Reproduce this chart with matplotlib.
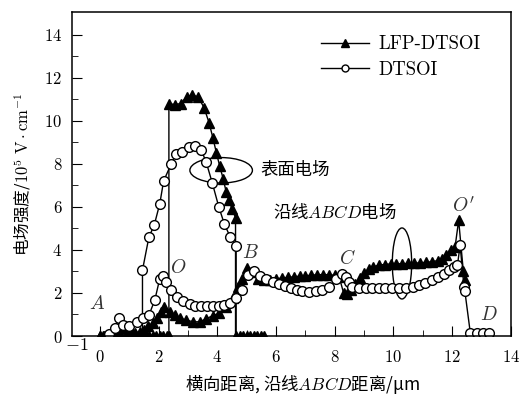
import matplotlib
matplotlib.use("Agg")
import matplotlib.pyplot as plt
from matplotlib.patches import Ellipse
from matplotlib.lines import Line2D

plt.rcParams['font.family'] = ['cmr10', 'Noto Sans CJK SC', 'DejaVu Sans']
plt.rcParams['mathtext.fontset'] = 'cm'
plt.rcParams['axes.unicode_minus'] = False
plt.rcParams['axes.formatter.use_mathtext'] = True

CJK = ['Noto Sans CJK SC', 'DejaVu Sans']

# LFP-DTSOI, surface field (lateral distance)
lfp_surf_x = [0, 0.12, 0.24, 0.36, 0.48, 0.6, 0.72, 0.84, 0.96, 1.08, 1.2, 1.32, 1.44, 1.56,
              1.68, 1.8, 1.92, 2.04, 2.16, 2.28, 2.35, 2.35, 2.55, 2.75, 2.95, 3.15, 3.35, 3.55,
              3.72, 3.85, 3.97, 4.08, 4.2, 4.3, 4.4, 4.5, 4.62, 4.62, 4.76, 4.88, 5.0,
              5.12, 5.24, 5.36, 5.48, 5.6]
lfp_surf_y = [0, 0, 0, 0, 0, 0, 0, 0, 0, 0, 0, 0, 0, 0,
              0, 0, 0, 0, 0, 0, 0, 10.8, 10.75, 10.8, 11.1, 11.2, 11.1, 10.6,
              9.9, 9.2, 8.5, 7.9, 7.3, 6.7, 6.3, 5.9, 5.5, 0, 0, 0, 0,
              0, 0, 0, 0, 0]

# LFP-DTSOI, along ABCD
lfp_abcd_x = [0.0, 0.15, 0.3, 0.45, 0.6, 0.75, 0.9, 1.05, 1.2, 1.35, 1.5, 1.65, 1.8, 1.95,
              2.08, 2.2, 2.38, 2.55, 2.72, 2.94, 3.17, 3.4, 3.62, 3.85, 4.07, 4.3, 4.53, 4.7,
              4.84, 5.0, 5.15, 5.38, 5.6, 5.8, 6.0, 6.2, 6.4, 6.6, 6.8, 7.0, 7.2, 7.4, 7.6,
              7.8, 8.0, 8.15, 8.3, 8.42, 8.55, 8.7, 8.85, 9.0, 9.15, 9.3, 9.5, 9.7, 9.9, 10.1,
              10.3, 10.5, 10.7, 10.9, 11.1, 11.3, 11.5, 11.65, 11.8, 11.95, 12.1, 12.22,
              12.38, 12.43]
lfp_abcd_y = [0, 0, 0.05, 0.1, 0.2, 0.35, 0.45, 0.3, 0.15, 0.2, 0.3, 0.45, 0.6, 0.85,
              1.1, 1.35, 1.13, 0.97, 0.83, 0.74, 0.66, 0.66, 0.8, 0.95, 1.05, 1.36, 1.75, 2.29,
              2.67, 3.15, 2.98, 2.67, 2.6, 2.6, 2.65, 2.7, 2.72, 2.75, 2.78, 2.8, 2.82, 2.85, 2.85,
              2.85, 2.82, 2.75, 2.0, 1.95, 2.15, 2.4, 2.7, 2.95, 3.1, 3.2, 3.3, 3.32, 3.35, 3.35,
              3.36, 3.37, 3.38, 3.4, 3.42, 3.45, 3.5, 3.6, 3.75, 4.0, 4.15, 5.38,
              3.0, 2.6]

# DTSOI, surface field (first and last point carry no marker)
dt_surf_x = [1.45, 1.45, 1.67, 1.85, 2.04, 2.17, 2.43, 2.6, 2.8, 3.03, 3.23, 3.45, 3.62,
             3.83, 4.05, 4.24, 4.44, 4.64, 4.64]
dt_surf_y = [0, 3.06, 4.6, 5.15, 6.15, 7.2, 8.0, 8.44, 8.55, 8.78, 8.82, 8.65, 8.08,
             7.1, 6.0, 5.2, 4.6, 4.2, 0]

# DTSOI, along ABCD
dt_abcd_x = [0.3, 0.5, 0.66, 0.8, 1.0, 1.25, 1.47, 1.67, 1.87, 2.04, 2.15, 2.24, 2.43,
             2.64, 2.84, 3.06, 3.25, 3.45, 3.65, 3.85, 4.05, 4.24, 4.44, 4.64, 4.84, 5.04,
             5.26, 5.47, 5.66, 5.89, 6.1, 6.3, 6.5, 6.7, 6.9, 7.13, 7.36, 7.58, 7.81, 8.04,
             8.26, 8.38, 8.47, 8.6, 8.83, 9.05, 9.28, 9.5, 9.72, 9.95, 10.2, 10.42, 10.65,
             10.87, 11.09, 11.32, 11.52, 11.71, 11.88, 12.05, 12.18, 12.27, 12.4, 12.43,
             12.62, 12.84, 13.04, 13.24]
dt_abcd_y = [0.1, 0.37, 0.82, 0.5, 0.45, 0.66, 0.82, 0.97, 1.67, 2.67, 2.78, 2.52, 2.13,
             1.82, 1.62, 1.48, 1.41, 1.39, 1.38, 1.39, 1.4, 1.44, 1.54, 1.75, 2.13, 2.83,
             3.03, 2.78, 2.64, 2.52, 2.4, 2.32, 2.22, 2.15, 2.1, 2.06, 2.1, 2.13, 2.29, 2.63,
             2.9, 2.75, 2.52, 2.29, 2.25, 2.21, 2.21, 2.21, 2.21, 2.21, 2.22, 2.25, 2.3,
             2.36, 2.44, 2.6, 2.75, 2.9, 3.06, 3.21, 3.3, 4.22, 2.3, 2.1,
             0.12, 0.12, 0.12, 0.12]

fig = plt.figure(figsize=(5.2, 3.96), dpi=100)
ax = fig.add_axes([0.1385, 0.1515, 0.844, 0.818])

tri = dict(color='black', lw=1, marker='^', ms=7, mfc='black', mec='black')
circ = dict(color='black', lw=1, marker='o', ms=7, mfc='white', mec='black', mew=1)

ax.plot(lfp_surf_x, lfp_surf_y, **tri)
ax.plot(lfp_abcd_x, lfp_abcd_y, **tri)
ax.plot(dt_surf_x, dt_surf_y, markevery=slice(1, -1), **circ)
ax.plot(dt_abcd_x, dt_abcd_y, **circ)

# Ellipses and annotations
ax.add_patch(Ellipse((4.13, 7.7), 2.13, 1.18, fill=False, lw=1, color='black'))
ax.add_patch(Ellipse((10.29, 3.37), 0.66, 3.3, fill=False, lw=1, color='black'))
ax.text(5.45, 7.7, '表面电场', fontsize=12.5, va='center', ha='left', family=CJK)
ax.text(5.9, 5.75, '沿线$ABCD$电场', fontsize=12.5, va='center', ha='left', family=CJK)

for lab, lx, ly in [('$A$', -0.1, 1.5), ('$O$', 2.66, 3.14), ('$B$', 5.12, 3.86),
                    ('$C$', 8.43, 3.6), ("$O'$", 12.39, 6.07), ('$D$', 13.24, 0.97)]:
    ax.text(lx, ly, lab, fontsize=14, ha='center', va='center', color='#333333')

ax.set_xlim(-0.95, 14)
ax.set_ylim(0, 15.05)
ax.set_xticks(range(0, 15, 2))
ax.set_xticks(range(1, 15, 2), minor=True)
ax.set_yticks(range(0, 15, 2))
ax.set_yticks(range(1, 15, 2), minor=True)
ax.tick_params(which='both', direction='in', labelsize=12, top=False, right=False)
ax.tick_params(which='major', length=7)
ax.tick_params(which='minor', length=4)
ax.tick_params(axis='x', pad=9)
ax.tick_params(axis='y', pad=7)
ax.text(-0.8, -0.43, '$-1$', fontsize=13, ha='center', va='center', clip_on=False)
for s in ax.spines.values():
    s.set_linewidth(1.1)

ax.set_xlabel('横向距离, 沿线$ABCD$距离/μm', fontsize=12.5, family=CJK)
ax.xaxis.set_label_coords(0.524, -0.115)
ax.set_ylabel('电场强度/$10^5\\ \\mathrm{V}\\cdot\\mathrm{cm}^{-1}$', fontsize=12,
              labelpad=8, family=CJK)

handles = [Line2D([], [], color='black', lw=1, marker='^', ms=6, mfc='black'),
           Line2D([], [], color='black', lw=1, marker='o', ms=5, mfc='white', mec='black')]
ax.legend(handles, ['LFP-DTSOI', 'DTSOI'], loc='upper right', frameon=False,
          fontsize=13.5, handlelength=2.6, bbox_to_anchor=(0.97, 0.98),
          labelspacing=0.4, handletextpad=0.5)

fig.savefig('out.png', dpi=100)
